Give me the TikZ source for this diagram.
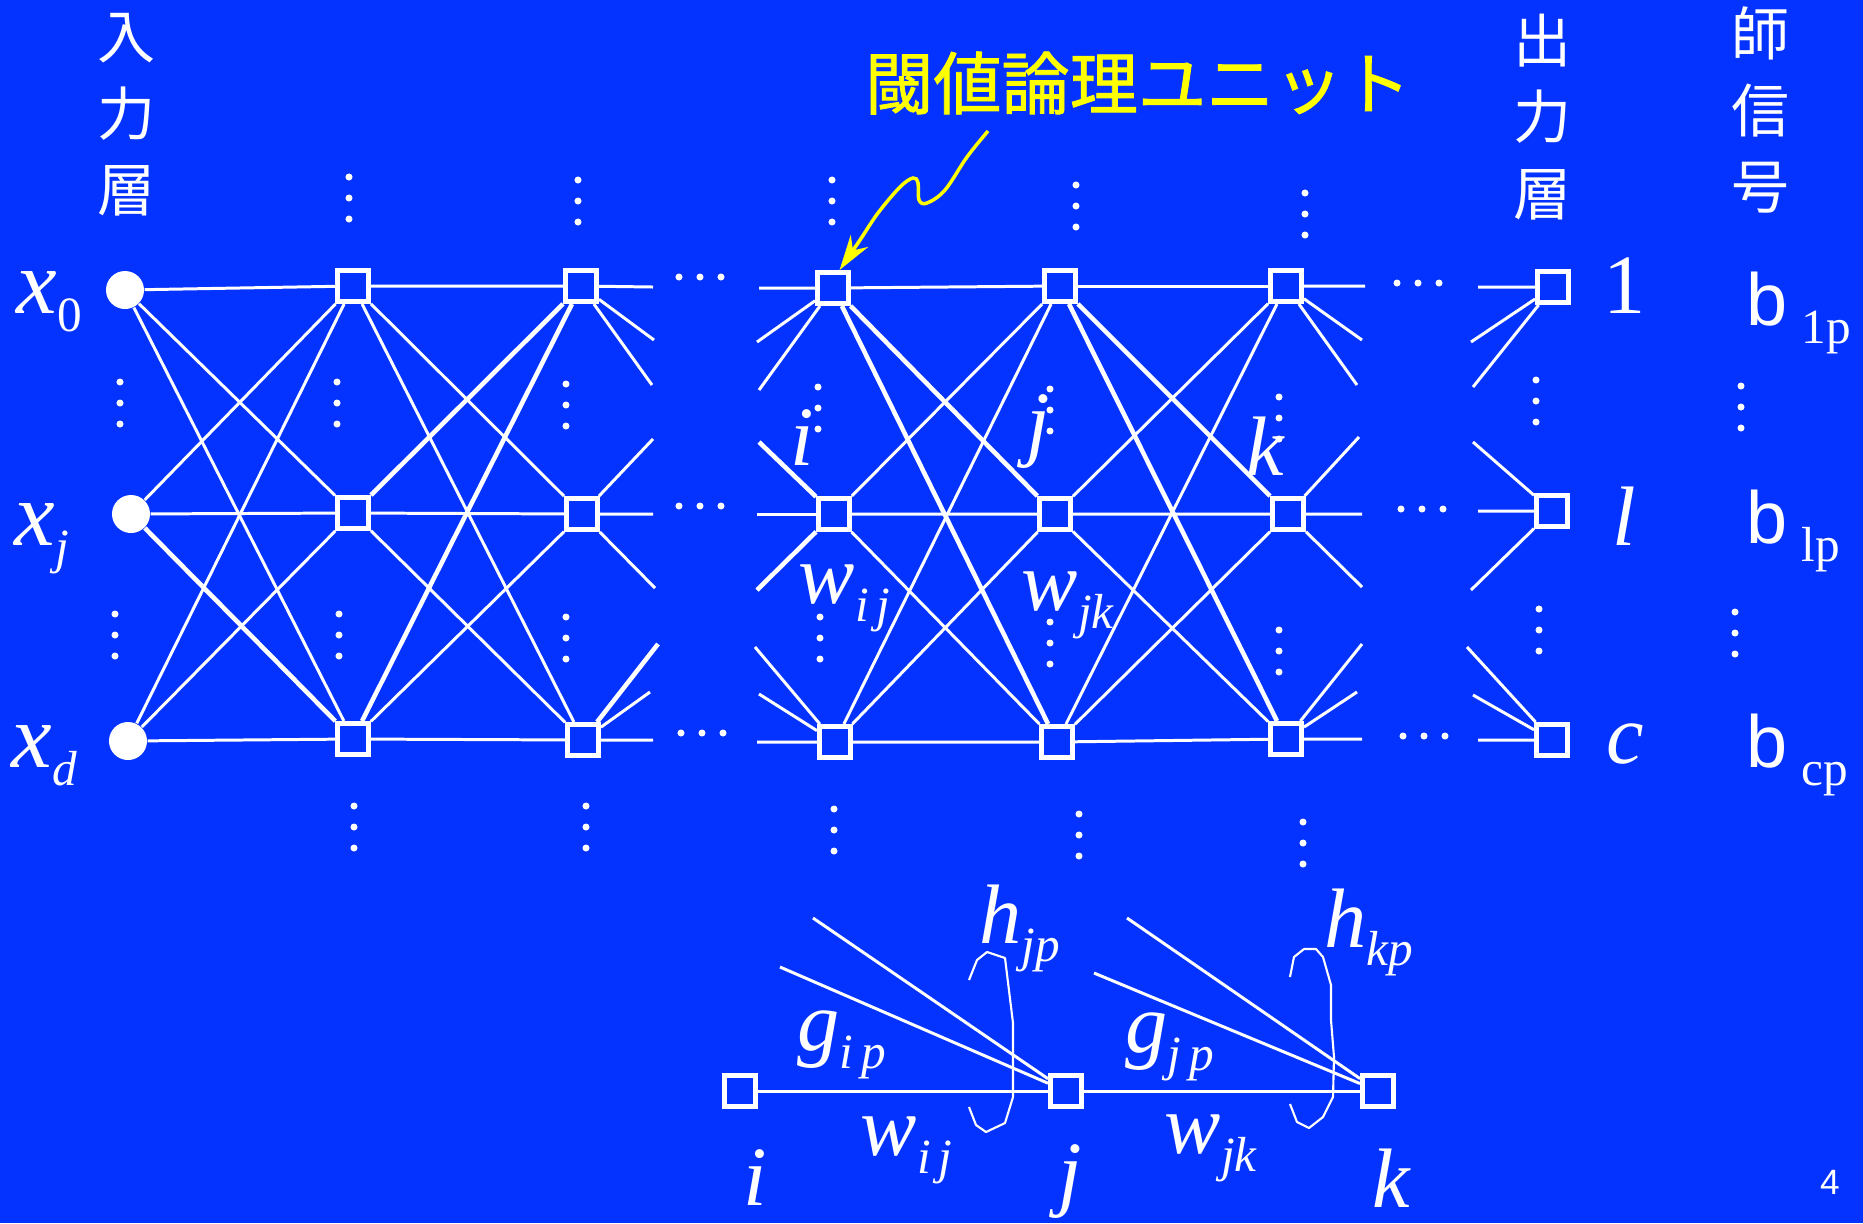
\documentclass[tikz,border=0pt]{standalone}
\usepackage{fontspec}
\setmainfont{Liberation Serif}
\newfontfamily\jpfont{Noto Sans CJK JP}
\newfontfamily\jpheavy[FakeBold=1.2]{Noto Sans CJK JP}
\newfontfamily\arialfont{Liberation Sans}
\usetikzlibrary{arrows.meta}
\definecolor{slideblue}{RGB}{4,51,255}
\definecolor{calloutyellow}{RGB}{255,255,0}
\newcommand{\idx}[2]{#1\raisebox{-5.2pt}{\fontsize{14pt}{14pt}\selectfont #2}}
\newcommand{\vdts}[2]{\fill[white] (#1,#2) circle[radius=1pt] (#1,#2+21) circle[radius=1pt] (#1,#2+42) circle[radius=1pt];}
\newcommand{\hdts}[2]{\fill[white] (#1,#2) circle[radius=1pt] (#1+21,#2) circle[radius=1pt] (#1+42,#2) circle[radius=1pt];}

\begin{document}
\begin{tikzpicture}[x=0.01cm, y=-0.01cm,
  unit/.style={draw=white, fill=slideblue, line width=1.55pt, minimum size=0.305cm, inner sep=0pt},
  inp/.style={circle, fill=white, minimum size=0.38cm, inner sep=0pt},
  conn/.style={white, line width=0.85pt},
  heavy/.style={white, line width=1.3pt},
  lbl/.style={white, inner sep=0pt, anchor=base west, font=\fontsize{24pt}{24pt}\selectfont\itshape},
  xlbl/.style={lbl, font=\fontsize{26pt}{26pt}\selectfont\itshape},
  blbl/.style={white, inner sep=0pt, anchor=base west, font=\fontsize{21pt}{21pt}\selectfont},
  jp/.style={white, inner sep=0pt, align=center, font=\jpfont\fontsize{16.5pt}{21.8pt}\selectfont}]
\useasboundingbox (0,0) rectangle (1863,1223);
\fill[slideblue] (0,0) rectangle (1863,1223);

% layer titles
\node[jp] (inlayer) at (127,115) {入\\力\\層};
\node[jp] (outlayer) at (1542,117) {出\\力\\層};
\node[jp] (teacher) at (1760,110) {師\\信\\号};
\node[jp, text=calloutyellow, font=\jpheavy\fontsize{19.4pt}{19.4pt}\selectfont] (tlu) at (1138,83) {閾値論理ユニット};

% units, one column per layer
\node[inp] (in0) at (125,290) {};
\node[inp] (inj) at (131,514) {};
\node[inp] (ind) at (128,741) {};
\node[unit] (ha1) at (353,286) {}; \node[unit] (ha2) at (353,513) {}; \node[unit] (ha3) at (353,739) {};
\node[unit] (hb1) at (581,286) {}; \node[unit] (hb2) at (582,514) {}; \node[unit] (hb3) at (583,740) {};
\node[unit] (ui1) at (833,288) {}; \node[unit] (ui2) at (834,514) {}; \node[unit] (ui3) at (835,742) {};
\node[unit] (uj1) at (1060,286) {}; \node[unit] (uj2) at (1055,514) {}; \node[unit] (uj3) at (1057,742) {};
\node[unit] (uk1) at (1286,286) {}; \node[unit] (uk2) at (1288,514) {}; \node[unit] (uk3) at (1286,739) {};
\node[unit] (out1) at (1553,287) {}; \node[unit] (outl) at (1552,511) {}; \node[unit] (outc) at (1552,740) {};

% loose ends of the cut connections
\coordinate (hb1e) at (653,287); \coordinate (hb1f) at (654,340); \coordinate (hb1g) at (652,385);
\coordinate (hb2e) at (653,514); \coordinate (hb2f) at (653,439); \coordinate (hb2g) at (655,588);
\coordinate (hb3e) at (653,740); \coordinate (hb3f) at (658,644); \coordinate (hb3g) at (650,692);
\coordinate (ui1e) at (759,288); \coordinate (ui1f) at (757,342); \coordinate (ui1g) at (759,390);
\coordinate (ui2e) at (757,514); \coordinate (ui2f) at (759,442); \coordinate (ui2g) at (757,590);
\coordinate (ui3e) at (757,742); \coordinate (ui3f) at (755,647); \coordinate (ui3g) at (759,694);
\coordinate (uk1e) at (1365,286); \coordinate (uk1f) at (1362,340); \coordinate (uk1g) at (1357,385);
\coordinate (uk2e) at (1362,514); \coordinate (uk2f) at (1359,437); \coordinate (uk2g) at (1362,587);
\coordinate (uk3e) at (1362,739); \coordinate (uk3f) at (1362,644); \coordinate (uk3g) at (1357,692);
\coordinate (out1e) at (1478,287); \coordinate (out1f) at (1471,342); \coordinate (out1g) at (1473,387);
\coordinate (outle) at (1478,511); \coordinate (outlf) at (1473,442); \coordinate (outlg) at (1471,590);
\coordinate (outce) at (1478,740); \coordinate (outcf) at (1467,647); \coordinate (outcg) at (1473,695);

% input -> hidden a -> hidden b
\draw[conn] (in0) -- (ha1) (in0) -- (ha2) (in0) -- (ha3);
\draw[conn] (inj) -- (ha1) (inj) -- (ha2); \draw[heavy] (inj) -- (ha3);
\draw[conn] (ind) -- (ha1) (ind) -- (ha2) (ind) -- (ha3);
\draw[conn] (ha1) -- (hb1) (ha1) -- (hb2) (ha1) -- (hb3);
\draw[heavy] (ha2) -- (hb1); \draw[conn] (ha2) -- (hb2) (ha2) -- (hb3);
\draw[heavy] (ha3) -- (hb1); \draw[conn] (ha3) -- (hb2) (ha3) -- (hb3);
\draw[conn] (hb1) -- (hb1e) (hb1) -- (hb1f) (hb1) -- (hb1g);
\draw[conn] (hb2) -- (hb2e) (hb2) -- (hb2f) (hb2) -- (hb2g);
\draw[conn] (hb3) -- (hb3e) (hb3) -- (hb3g); \draw[heavy] (hb3) -- (hb3f);

% i -> j -> k
\draw[conn] (ui1e) -- (ui1) (ui1f) -- (ui1) (ui1g) -- (ui1);
\draw[conn] (ui2e) -- (ui2); \draw[heavy] (ui2f) -- (ui2) (ui2g) -- (ui2);
\draw[conn] (ui3e) -- (ui3) (ui3f) -- (ui3) (ui3g) -- (ui3);
\draw[conn] (ui1) -- (uj1); \draw[heavy] (ui1) -- (uj2) (ui1) -- (uj3);
\draw[conn] (ui2) -- (uj1) (ui2) -- (uj2) (ui2) -- (uj3);
\draw[conn] (ui3) -- (uj1) (ui3) -- (uj2) (ui3) -- (uj3);
\draw[conn] (uj1) -- (uk1); \draw[heavy] (uj1) -- (uk2) (uj1) -- (uk3);
\draw[conn] (uj2) -- (uk1) (uj2) -- (uk2) (uj2) -- (uk3);
\draw[conn] (uj3) -- (uk1) (uj3) -- (uk2) (uj3) -- (uk3);
\draw[conn] (uk1) -- (uk1e) (uk1) -- (uk1f) (uk1) -- (uk1g);
\draw[conn] (uk2) -- (uk2e) (uk2) -- (uk2f) (uk2) -- (uk2g);
\draw[conn] (uk3) -- (uk3e) (uk3) -- (uk3f) (uk3) -- (uk3g);
\draw[conn] (out1e) -- (out1) (out1f) -- (out1) (out1g) -- (out1);
\draw[conn] (outle) -- (outl) (outlf) -- (outl) (outlg) -- (outl);
\draw[conn] (outce) -- (outc) (outcf) -- (outc) (outcg) -- (outc);

% dots
\vdts{349}{177} \vdts{578}{180} \vdts{832}{180} \vdts{1076}{185} \vdts{1305}{193}
\vdts{120}{382} \vdts{337}{382} \vdts{566}{384} \vdts{818}{387} \vdts{1050}{389} \vdts{1279}{397} \vdts{1536}{380} \vdts{1741}{386}
\vdts{115}{614} \vdts{339}{614} \vdts{566}{617} \vdts{820}{617} \vdts{1050}{622} \vdts{1279}{630} \vdts{1539}{609} \vdts{1735}{612}
\vdts{354}{806} \vdts{586}{806} \vdts{834}{809} \vdts{1079}{814} \vdts{1303}{822}
\hdts{679}{277} \hdts{679}{506} \hdts{681}{733}
\hdts{1397}{283} \hdts{1401}{509} \hdts{1403}{736}

% callout arrow
\coordinate (callout) at (988,131);
\draw[calloutyellow, line width=1pt, -{Stealth[length=10pt, width=6pt]}] plot[smooth, tension=0.6] coordinates {(callout) (967,157) (945,190) (927,203) (919,200) (918,183) (913,178) (900,187) (878,213) (860,240) (ui1.70)};

% labels
\node[xlbl] (lx0) at (16,313) {\idx{x}{\upshape 0}};
\node[xlbl] (lxj) at (14,545) {\idx{x}{j}};
\node[xlbl] (lxd) at (11,767) {\idx{x}{d}};
\node[lbl, font=\fontsize{24pt}{24pt}\selectfont] (l1) at (1603,313) {1};
\node[lbl] (ll) at (1612,545) {l};
\node[lbl] (lc) at (1606,763) {c};
\node[blbl] (b1p) at (1746,325) {\idx{{\arialfont b}\hspace{4pt}}{1p}};
\node[blbl] (blp) at (1746,543) {\idx{{\arialfont b}\hspace{4pt}}{lp}};
\node[blbl] (bcp) at (1746,767) {\idx{{\arialfont b}\hspace{4pt}}{cp}};
\node[lbl] (li) at (790,465) {i};
\node[lbl] (lj) at (1026,450) {j};
\node[lbl] (lk) at (1246,475) {k};
\node[lbl] (wij) at (798,603) {\idx{w}{i\,j}};
\node[lbl] (wjk) at (1021,610) {\idx{w}{jk}};

% one unit close up
\node[unit] (ti) at (740,1091) {};
\node[unit] (tj) at (1066,1091) {};
\node[unit] (tk) at (1378,1091) {};
\coordinate (gj1) at (813,918); \coordinate (gj2) at (780,967);
\coordinate (gk1) at (1127,918); \coordinate (gk2) at (1094,973);
\draw[conn] (ti) -- (tj) -- (tk);
\draw[conn] (gj1) -- (tj) (gj2) -- (tj) (gk1) -- (tk) (gk2) -- (tk);
\draw[white, line width=0.6pt, line join=round] (969,980) -- (977,960) -- (987,952) -- (1005,958) -- (1013,1023) -- (1013,1097) -- (1005,1123) -- (986,1132) -- (976,1125) -- (969,1107);
\draw[white, line width=0.6pt, line join=round] (1290,977) -- (1294,957) -- (1304,949) -- (1316,949) -- (1323,957) -- (1331,985) -- (1331,1020) -- (1334,1057) -- (1333,1097) -- (1323,1117) -- (1309,1128) -- (1297,1122) -- (1290,1104);
\node[lbl] (hjp) at (979,943) {\idx{h}{jp}};
\node[lbl] (hkp) at (1324,947) {\idx{h}{kp}};
\node[lbl] (gip) at (797,1050) {\idx{g}{i\,p}};
\node[lbl] (gjp) at (1125,1052) {\idx{g}{j\,p}};
\node[lbl] (twij) at (860,1155) {\idx{w}{i\,j}};
\node[lbl] (twjk) at (1164,1153) {\idx{w}{jk}};
\node[lbl] (tli) at (743,1205) {i};
\node[lbl] (tlj) at (1058,1200) {j};
\node[lbl] (tlk) at (1372,1207) {k};
\node[white, font=\arialfont\fontsize{10pt}{10pt}\selectfont] (pagenum) at (1830,1182) {4};
\end{tikzpicture}
\end{document}
